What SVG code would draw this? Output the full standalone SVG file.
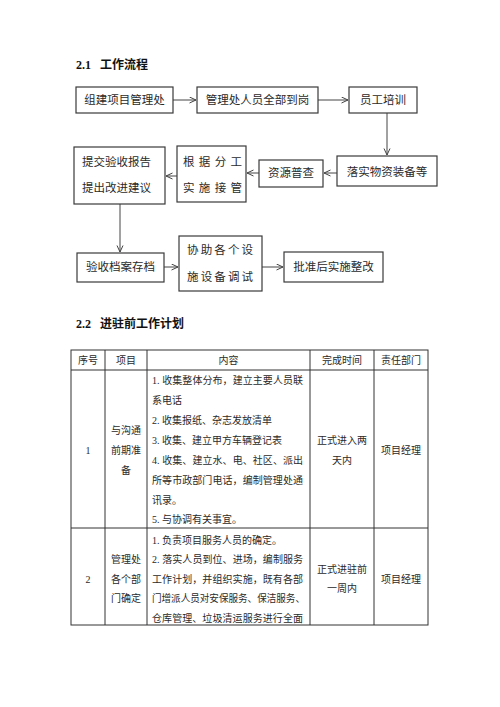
<svg xmlns="http://www.w3.org/2000/svg" width="500" height="707" viewBox="0 0 500 707">
<style>
.bg{fill:#fff}
.box{fill:#fff;stroke:#3a3a3a;stroke-width:1.2}
.con{stroke:#444;stroke-width:1;fill:none}
.ft{font-family:"Liberation Serif","Noto Sans CJK SC",serif;font-size:11.5px;fill:#2a2a2a}
.h{font-family:"Liberation Serif","Noto Sans CJK SC",serif;font-size:12px;font-weight:bold;fill:#111}
.tt{font-family:"Liberation Serif","Noto Sans CJK SC",serif;font-size:10px;fill:#2a2a2a}
.m{text-anchor:middle}
.grid{stroke:#333;stroke-width:1;fill:none}
</style>
<defs>
<marker id="arr" markerUnits="userSpaceOnUse" markerWidth="9" markerHeight="9" refX="7" refY="3.5" orient="auto">
<path d="M0.5,0.5 L7,3.5 L0.5,6.5" fill="none" stroke="#444" stroke-width="1"/>
</marker>
</defs>
<rect class="bg" x="0" y="0" width="500" height="707"/>

<text class="h" x="76" y="68.5">2.1<tspan x="100">工作流程</tspan></text>

<g id="connectors">
<line class="con" x1="173" y1="100" x2="196" y2="100" marker-end="url(#arr)"/>
<line class="con" x1="318" y1="100" x2="348" y2="100" marker-end="url(#arr)"/>
<line class="con" x1="387" y1="113" x2="387" y2="155" marker-end="url(#arr)"/>
<line class="con" x1="337" y1="173" x2="324" y2="173" marker-end="url(#arr)"/>
<line class="con" x1="259" y1="173" x2="247" y2="173" marker-end="url(#arr)"/>
<line class="con" x1="177" y1="176" x2="166" y2="176" marker-end="url(#arr)"/>
<line class="con" x1="120" y1="204" x2="120" y2="252" marker-end="url(#arr)"/>
<line class="con" x1="164" y1="267" x2="178" y2="267" marker-end="url(#arr)"/>
<line class="con" x1="262" y1="267" x2="283" y2="267" marker-end="url(#arr)"/>
</g>

<g id="n1"><rect class="box" x="76" y="87" width="97" height="26"/><text class="ft m" x="124.5" y="104.4">组建项目管理处</text></g>
<g id="n2"><rect class="box" x="197" y="87" width="121" height="26"/><text class="ft m" x="257.5" y="104.4">管理处人员全部到岗</text></g>
<g id="n3"><rect class="box" x="349" y="87" width="68" height="26"/><text class="ft m" x="383" y="104.4">员工培训</text></g>
<g id="n4"><rect class="box" x="337" y="156" width="100" height="30"/><text class="ft m" x="387" y="176">落实物资装备等</text></g>
<g id="n5"><rect class="box" x="259" y="160" width="64" height="27"/><text class="ft m" x="291" y="177.4">资源普查</text></g>
<g id="n6"><rect class="box" x="177" y="146" width="69" height="56"/>
<text class="ft" x="183" y="166.4" textLength="59" lengthAdjust="spacing">根据分工</text>
<text class="ft" x="183" y="192.4" textLength="59" lengthAdjust="spacing">实施接管</text></g>
<g id="n7"><rect class="box" x="74" y="147" width="91" height="57"/>
<text class="ft" x="82" y="166.4">提交验收报告</text>
<text class="ft" x="82" y="192.4">提出改进建议</text></g>
<g id="n8"><rect class="box" x="77" y="253" width="87" height="29"/><text class="ft m" x="120.5" y="271.4">验收档案存档</text></g>
<g id="n9"><rect class="box" x="179" y="236" width="83" height="55"/>
<text class="ft" x="187" y="254.4" textLength="66" lengthAdjust="spacing">协助各个设</text>
<text class="ft" x="187" y="281.4" textLength="66" lengthAdjust="spacing">施设备调试</text></g>
<g id="n10"><rect class="box" x="284" y="252" width="99" height="30"/><text class="ft m" x="333.5" y="271.4">批准后实施整改</text></g>

<text class="h" x="76" y="327.5">2.2<tspan x="100">进驻前工作计划</tspan></text>

<g id="table">
<rect class="grid" x="71" y="350" width="357" height="275"/>
<line class="grid" x1="71" y1="370" x2="428" y2="370"/>
<line class="grid" x1="71" y1="528" x2="428" y2="528"/>
<line class="grid" x1="105" y1="350" x2="105" y2="625"/>
<line class="grid" x1="147" y1="350" x2="147" y2="625"/>
<line class="grid" x1="310" y1="350" x2="310" y2="625"/>
<line class="grid" x1="374" y1="350" x2="374" y2="625"/>

<text class="tt m" x="88" y="363.8">序号</text>
<text class="tt m" x="126" y="363.8">项目</text>
<text class="tt m" x="228.5" y="363.8">内容</text>
<text class="tt m" x="342" y="363.8">完成时间</text>
<text class="tt m" x="401" y="363.8">责任部门</text>

<text class="tt m" x="88" y="453.8">1</text>
<text class="tt m" x="126" y="433.8">与沟通</text>
<text class="tt m" x="126" y="453.8">前期准</text>
<text class="tt m" x="126" y="473.8">备</text>
<text class="tt" x="152" y="383.8" textLength="151" lengthAdjust="spacing">1. 收集整体分布，建立主要人员联</text>
<text class="tt" x="152" y="403.8">系电话</text>
<text class="tt" x="152" y="423.8">2. 收集报纸、杂志发放清单</text>
<text class="tt" x="152" y="443.8">3. 收集、建立甲方车辆登记表</text>
<text class="tt" x="152" y="463.8" textLength="151" lengthAdjust="spacing">4. 收集、建立水、电、社区、派出</text>
<text class="tt" x="152" y="483.8" textLength="151" lengthAdjust="spacing">所等市政部门电话，编制管理处通</text>
<text class="tt" x="152" y="503.8">讯录。</text>
<text class="tt" x="152" y="522.8">5. 与协调有关事宜。</text>
<text class="tt m" x="342" y="443.8">正式进入两</text>
<text class="tt m" x="342" y="463.8">天内</text>
<text class="tt m" x="401" y="453.8">项目经理</text>

<text class="tt m" x="88" y="582.8">2</text>
<text class="tt m" x="126" y="562.8">管理处</text>
<text class="tt m" x="126" y="582.8">各个部</text>
<text class="tt m" x="126" y="601.8">门确定</text>
<text class="tt" x="152" y="543.8">1. 负责项目服务人员的确定。</text>
<text class="tt" x="152" y="562.8" textLength="151" lengthAdjust="spacing">2. 落实人员到位、进场，编制服务</text>
<text class="tt" x="152" y="582.8" textLength="151" lengthAdjust="spacing">工作计划，并组织实施，既有各部</text>
<text class="tt" x="152" y="601.8" textLength="153" lengthAdjust="spacingAndGlyphs">门增派人员对安保服务、保洁服务、</text>
<text class="tt" x="152" y="621.8" textLength="151" lengthAdjust="spacing">仓库管理、垃圾清运服务进行全面</text>
<text class="tt m" x="342" y="572.8">正式进驻前</text>
<text class="tt m" x="342" y="591.8">一周内</text>
<text class="tt m" x="401" y="582.8">项目经理</text>
</g>
</svg>
